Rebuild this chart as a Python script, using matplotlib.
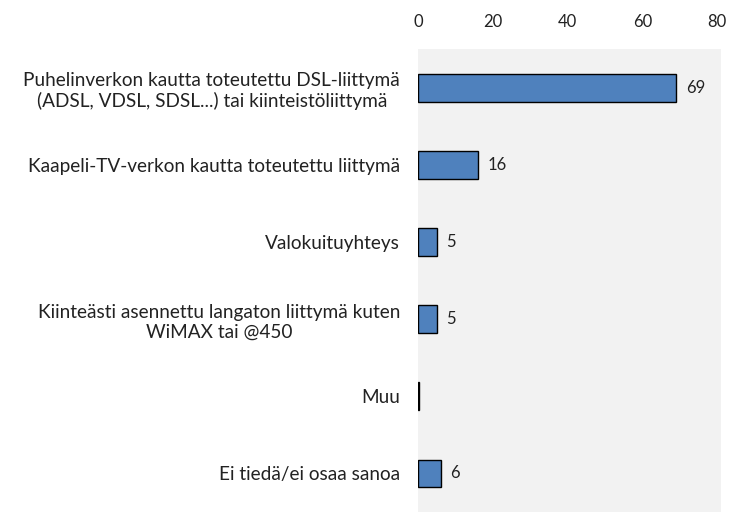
import matplotlib.pyplot as plt

# Liittymätyypit ja osuudet (%)
categories = [
    "Puhelinverkon kautta toteutettu DSL-liittymä\n(ADSL, VDSL, SDSL...) tai kiinteistöliittymä",
    "Kaapeli-TV-verkon kautta toteutettu liittymä",
    "Valokuituyhteys",
    "Kiinteästi asennettu langaton liittymä kuten\nWiMAX tai @450",
    "Muu",
    "Ei tiedä/ei osaa sanoa",
]
values = [69, 16, 5, 5, 0.3, 6]
value_labels = ["69", "16", "5", "5", "", "6"]
ticks = [0, 20, 40, 60, 80]

plt.rcParams['font.family'] = ['Lato', 'DejaVu Sans']

fig = plt.figure(figsize=(7.31, 5.12), dpi=100)
ax = fig.add_axes([0.572, 0.0, 0.414, 0.904])
ax.set_facecolor("#f2f2f2")

ypos = list(range(len(categories)))
ax.barh(ypos, values, height=0.36, color="#4f81bd", edgecolor="black", linewidth=1.0)

for y, v, lab in zip(ypos, values, value_labels):
    if lab:
        ax.text(v + 2.6, y, lab, va="center", ha="left", fontsize=12, color="#222222")

ax.set_ylim(len(categories) - 0.5, -0.5)
ax.set_xlim(0, 81)
ax.set_yticks(ypos)
ax.set_yticklabels(categories, fontsize=13.7, color="#222222", multialignment="center",
                   linespacing=1.2)
ax.set_xticks(ticks)
ax.xaxis.tick_top()
ax.tick_params(axis="x", length=0, pad=14, labelsize=12, labelcolor="#222222")
ax.tick_params(axis="y", length=0, pad=13)
for s in ax.spines.values():
    s.set_visible(False)

fig.savefig("out.png", dpi=100)
